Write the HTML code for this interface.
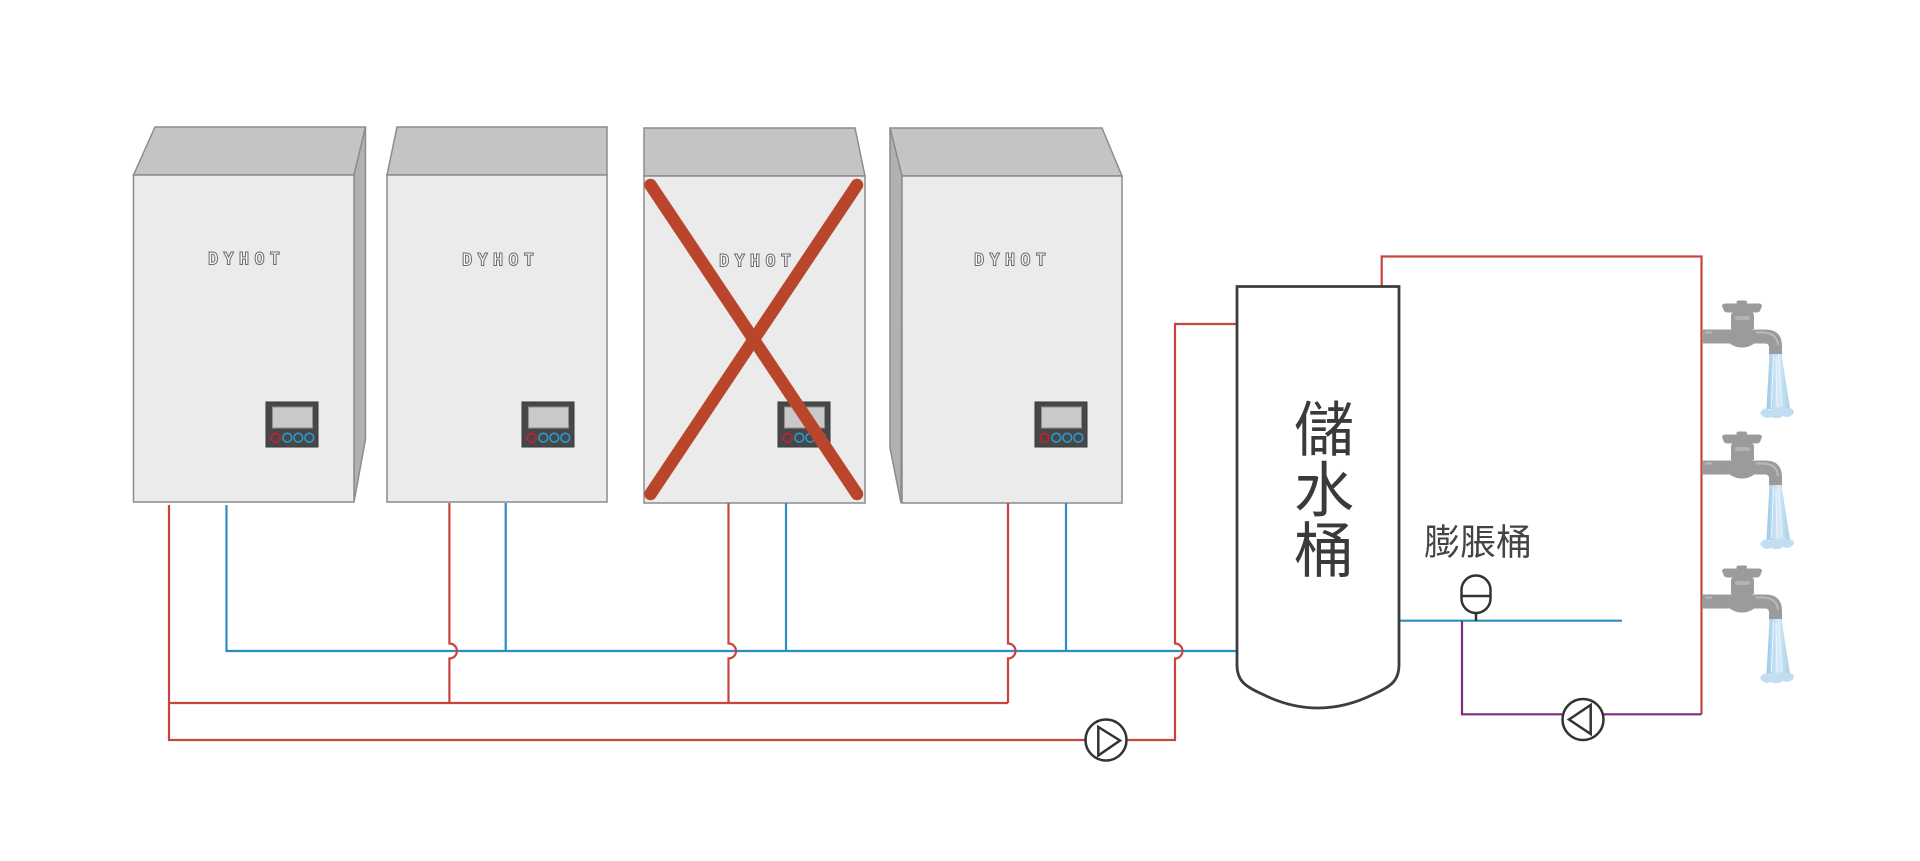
<!DOCTYPE html>
<html><head><meta charset="utf-8"><style>
html,body{margin:0;padding:0;background:#fff;}
svg{display:block;}
</style></head><body>
<svg width="1920" height="861" viewBox="0 0 1920 861" xmlns="http://www.w3.org/2000/svg">
<rect width="1920" height="861" fill="#fff"/>
<defs>
<g id="panel">
 <rect x="0" y="0" width="52" height="45" fill="#474747" stroke="#383838" stroke-width="1"/>
 <rect x="6.5" y="5" width="40" height="21" fill="#c9c9c9" stroke="#8f8f8f" stroke-width="1"/>
 <circle cx="9.7" cy="35.7" r="4.4" fill="none" stroke="#c8202e" stroke-width="1.6"/>
 <circle cx="21.3" cy="35.7" r="4.4" fill="none" stroke="#2a9ad0" stroke-width="1.6"/>
 <circle cx="32.3" cy="35.7" r="4.4" fill="none" stroke="#2a9ad0" stroke-width="1.6"/>
 <circle cx="43.3" cy="35.7" r="4.4" fill="none" stroke="#2a9ad0" stroke-width="1.6"/>
</g>
<linearGradient id="wat" x1="0" y1="0" x2="1" y2="0">
 <stop offset="0" stop-color="#9cc8e6"/><stop offset="0.5" stop-color="#d6eaf7"/><stop offset="1" stop-color="#a6cfe9"/>
</linearGradient>
<g id="faucet">
 <path d="M1702,329.5 H1765 Q1782,329.5 1782,346 V354.5 H1769 V347.5 Q1769,343.5 1765,343.5 H1702 Z" fill="#9b9b9b"/>
 <path d="M1705,332.5 H1712 M1752,332.5 H1764 Q1777,333.5 1778,345" stroke="#b9b9b9" stroke-width="2" fill="none"/>
 <ellipse cx="1742" cy="337" rx="15.5" ry="10.5" fill="#9b9b9b"/>
 <path d="M1731,316 Q1731,312 1735,312 H1750 Q1754,312 1754,316 V329 H1731 Z" fill="#9b9b9b"/>
 <rect x="1735" y="316" width="15" height="4" rx="2" fill="#b3b3b3"/>
 <path d="M1722,306 Q1722,303.5 1726,303.5 H1758 Q1762,303.5 1762,306 L1760,311 Q1759,312.5 1756,312.5 H1728 Q1725,312.5 1724,311 Z" fill="#9b9b9b"/>
 <rect x="1736.5" y="300.5" width="10.5" height="4" rx="2" fill="#9b9b9b"/>
 <path d="M1769.5,354 H1781.5 L1790,409 H1766.5 Z" fill="url(#wat)"/>
 <path d="M1773.5,356 L1771.5,407 M1778.5,356 L1782,407 M1776,358 L1777,406" stroke="#eef6fc" stroke-width="1" fill="none"/>
 <path d="M1760,413 Q1764,406 1769,410 Q1774,404 1778,409 Q1783,404 1788,409 Q1794,407 1794,413 Q1789,419 1783,416 Q1777,420 1771,417 Q1764,420 1760,413 Z" fill="#c3def1"/>
</g>
</defs>

<!-- Box 1 -->
<polygon points="133.5,175 155,127 365.5,127 354,175" fill="#c4c4c4" stroke="#8c8c8c" stroke-width="1.5"/>
<polygon points="354,175 365.5,127 365.5,439 354,502" fill="#b1b1b1" stroke="#8c8c8c" stroke-width="1.5"/>
<rect x="133.5" y="175" width="220.5" height="327" fill="#ebebeb" stroke="#8c8c8c" stroke-width="1.5"/>
<!-- Box 2 -->
<polygon points="387,175 397,127 607,127 607,175" fill="#c4c4c4" stroke="#8c8c8c" stroke-width="1.5"/>
<rect x="387" y="175" width="220" height="327" fill="#ebebeb" stroke="#8c8c8c" stroke-width="1.5"/>
<!-- Box 3 -->
<polygon points="644,176 644,128 855,128 865,176" fill="#c4c4c4" stroke="#8c8c8c" stroke-width="1.5"/>
<rect x="644" y="176" width="221" height="327" fill="#ebebeb" stroke="#8c8c8c" stroke-width="1.5"/>
<!-- Box 4 -->
<polygon points="902,176 890,128 1102,128 1122,176" fill="#c4c4c4" stroke="#8c8c8c" stroke-width="1.5"/>
<polygon points="890,128 902,176 901,503 890,448" fill="#b1b1b1" stroke="#8c8c8c" stroke-width="1.5"/>
<rect x="902" y="176" width="220" height="327" fill="#ebebeb" stroke="#8c8c8c" stroke-width="1.5"/>

<!-- DYHOT labels -->
<g font-family="'DejaVu Sans Mono', 'Liberation Mono', monospace" font-weight="bold" font-size="17" fill="#fbfbfb" stroke="#6a6a6a" stroke-width="1">
 <text x="208" y="264.5" textLength="72" lengthAdjust="spacing">DYHOT</text>
 <text x="462" y="265.5" textLength="72" lengthAdjust="spacing">DYHOT</text>
 <text x="719" y="266.5" textLength="72" lengthAdjust="spacing">DYHOT</text>
 <text x="974" y="265.5" textLength="72" lengthAdjust="spacing">DYHOT</text>
</g>

<!-- Panels -->
<use href="#panel" x="266" y="402"/>
<use href="#panel" x="522" y="402"/>
<use href="#panel" x="778" y="402"/>
<use href="#panel" x="1035" y="402"/>

<!-- X over box 3 -->
<g stroke="#b9462b" stroke-width="12.5" stroke-linecap="round">
 <line x1="650.5" y1="185" x2="857" y2="494"/>
 <line x1="857" y1="185" x2="650.5" y2="494"/>
</g>

<!-- Pipes -->
<g fill="none" stroke-width="2.2" stroke-linejoin="miter">
 <path d="M226.5,505 V651 H1237" stroke="#2b8cc4"/>
 <path d="M505.7,503 V651 M786,503 V651 M1066,503 V651" stroke="#2b8cc4"/>
 <path d="M1399,620.7 H1622" stroke="#2b8cc4"/>
 <path d="M169,505 V740 H1085" stroke="#c9453c"/>
 <path d="M1127,740 H1175 V658.5 A7.5,7.5 0 0 0 1175,643.5 V324 H1237" stroke="#c9453c"/>
 <path d="M169,703 H1008" stroke="#c9453c"/>
 <path d="M449.4,503 V643.5 A7.5,7.5 0 0 1 449.4,658.5 V703" stroke="#c9453c"/>
 <path d="M728.5,503 V643.5 A7.5,7.5 0 0 1 728.5,658.5 V703" stroke="#c9453c"/>
 <path d="M1008,503 V643.5 A7.5,7.5 0 0 1 1008,658.5 V703" stroke="#c9453c"/>
 <path d="M1381.7,287 V256.5 H1701.5 V714.3" stroke="#c9453c"/>
 <path d="M1462,620.7 V714.3 H1701.5" stroke="#7d2a80"/>
</g>

<!-- Pump 1 -->
<circle cx="1106" cy="740" r="20.5" fill="#fff" stroke="#333" stroke-width="2.5"/>
<polygon points="1098.3,727 1098.3,755.5 1120,740.5" fill="none" stroke="#333" stroke-width="2.5" stroke-linejoin="miter"/>
<!-- Pump 2 -->
<circle cx="1583" cy="719.5" r="20.5" fill="#fff" stroke="#333" stroke-width="2.5"/>
<polygon points="1569,719.5 1590.7,705 1590.7,734" fill="none" stroke="#333" stroke-width="2.5" stroke-linejoin="miter"/>

<!-- Tank -->
<path d="M1237,286.5 V665 C1237,680 1244,686 1262,694 Q1290,708 1318,708 Q1346,708 1374,694 C1392,686 1399,680 1399,665 V286.5 Z" fill="#fff" stroke="#3d3d3d" stroke-width="2.8"/>
<g font-family="'Liberation Sans', 'Noto Sans CJK TC', sans-serif" font-size="60" fill="#3a3a3a" text-anchor="middle">
 <text x="1324" y="451">儲</text>
 <text x="1324" y="511.5">水</text>
 <text x="1324" y="572">桶</text>
</g>

<!-- Expansion tank -->
<text x="1424" y="554.5" font-family="'Liberation Sans', 'Noto Sans CJK TC', sans-serif" font-size="36" fill="#444">膨脹桶</text>
<rect x="1461.5" y="575.5" width="29" height="37.5" rx="14.5" ry="14.5" fill="#fff" stroke="#333" stroke-width="2.5"/>
<line x1="1461.5" y1="596" x2="1490.5" y2="596" stroke="#333" stroke-width="2.5"/>
<line x1="1476" y1="613" x2="1476" y2="621" stroke="#333" stroke-width="2.5"/>

<!-- Faucets -->
<use href="#faucet"/>
<use href="#faucet" y="131"/>
<use href="#faucet" y="265"/>
</svg>
</body></html>
